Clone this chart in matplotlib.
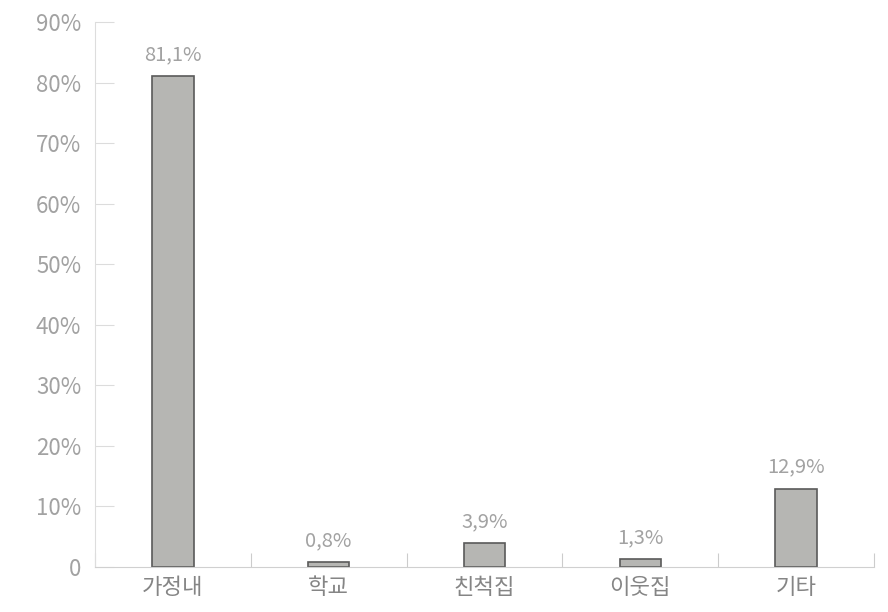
import matplotlib.pyplot as plt
import numpy as np

plt.rcParams['font.family'] = ['Noto Sans CJK KR', 'DejaVu Sans']

# Share of incidents by place
categories = ['가정내', '학교', '친척집', '이웃집', '기타']
shares = [81.1, 0.8, 3.9, 1.3, 12.9]
value_labels = ['81,1%', '0,8%', '3,9%', '1,3%', '12,9%']
y_ticks = [0, 10, 20, 30, 40, 50, 60, 70, 80, 90]
y_tick_labels = ['0', '10%', '20%', '30%', '40%', '50%', '60%', '70%', '80%', '90%']

fig = plt.figure(figsize=(8.88, 6.12), dpi=100)
ax = fig.add_axes([0.107, 0.074, 0.877, 0.89])

x = np.arange(len(categories))
ax.bar(x, shares, width=0.265, color='#b6b6b3', edgecolor='#5a5a5a', linewidth=1.2)

text_color = '#a2a2a2'
for xi, v, lab in zip(x, shares, value_labels):
    ax.text(xi, v + 1.8, lab, ha='center', va='bottom', fontsize=14.5,
            color=text_color, fontweight='light')

ax.set_xlim(-0.5, len(categories) - 0.5)
ax.set_ylim(0, 90)

ax.set_yticks(y_ticks)
ax.set_yticklabels(y_tick_labels, fontsize=16, color=text_color, fontweight='light')
ax.tick_params(axis='y', direction='in', length=14, color='#dcdcdc', pad=10)

# x ticks sit between categories; labels go at the category centres
ax.set_xticks(np.arange(len(categories) + 1) - 0.5)
ax.set_xticklabels([])
ax.set_xticks(x, minor=True)
ax.set_xticklabels(categories, minor=True, fontsize=16, color='#858585', fontweight='light')
ax.tick_params(axis='x', which='major', direction='in', length=10, color='#cccccc')
ax.tick_params(axis='x', which='minor', length=0, pad=7)

for side in ['top', 'right']:
    ax.spines[side].set_visible(False)
ax.spines['left'].set_color('#dddddd')
ax.spines['bottom'].set_color('#d0d0d0')

fig.savefig('out.png', dpi=100)
